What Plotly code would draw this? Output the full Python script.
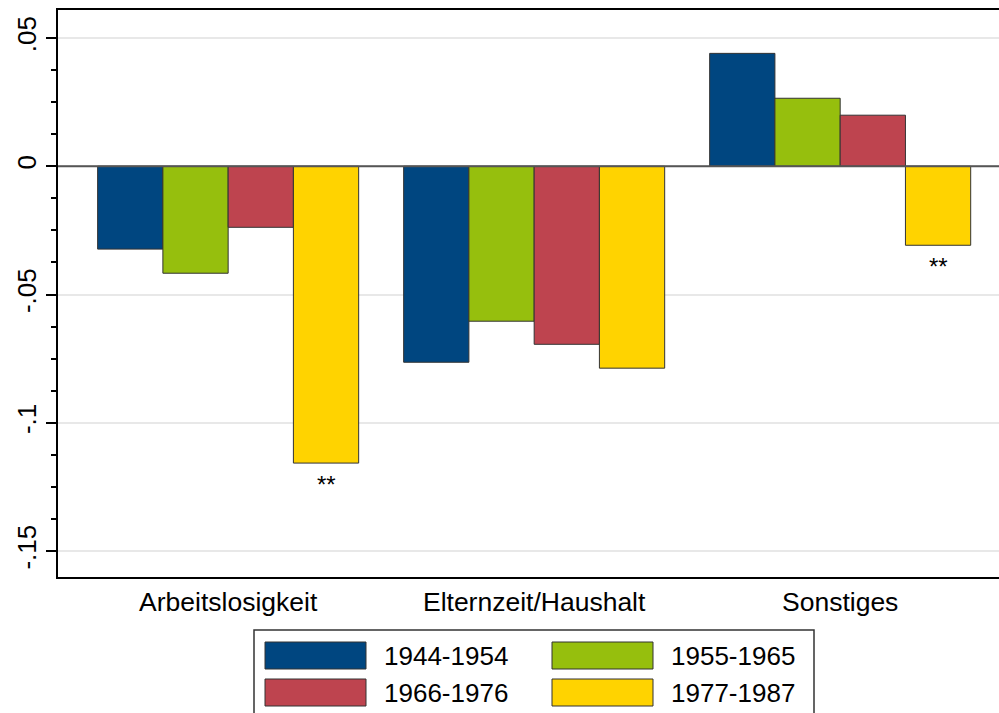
import plotly.graph_objects as go

categories = ["Arbeitslosigkeit", "Elternzeit/Haushalt", "Sonstiges"]
cohorts = ["1944-1954", "1955-1965", "1966-1976", "1977-1987"]
values = {
    "1944-1954": [-0.0323, -0.0764, 0.0440],
    "1955-1965": [-0.0417, -0.0604, 0.0265],
    "1966-1976": [-0.0238, -0.0694, 0.0199],
    "1977-1987": [-0.1157, -0.0787, -0.0308],
}
colors = ["#004680", "#96bf0d", "#be444f", "#ffd300"]
signif = {"1977-1987": ["**", "", "**"]}
ytick_vals = [-0.15, -0.1, -0.05, 0, 0.05]
ytick_text = ["-.15", "-.1", "-.05", "0", ".05"]

FONT = "Liberation Sans, Arial, sans-serif"
W, H = 999, 713
ML, MR, MT, MB = 58, 0, 10, 136
x_idx = list(range(len(categories)))
bargap = 0.147

fig = go.Figure()
for c, col in zip(cohorts, colors):
    fig.add_trace(go.Bar(x=x_idx, y=values[c], name=c, marker_color=col,
                         marker_line=dict(color="#333333", width=1)))

# significance stars
n = len(cohorts)
bw = (1 - bargap) / n
for k, c in enumerate(cohorts):
    if c in signif:
        off = (k - (n - 1) / 2) * bw
        for i, s in enumerate(signif[c]):
            if s:
                fig.add_annotation(x=i + off, y=values[c][i], text=s, showarrow=False,
                                   yanchor="top", yshift=-6, font=dict(size=24, color="black", family=FONT))

# zero line
fig.add_shape(type="line", xref="paper", yref="y", x0=0, x1=1, y0=0, y1=0,
              line=dict(color="#555555", width=2), layer="above")

# custom legend
pw = W - ML - MR
ph = H - MT - MB
def px(x):
    return (x - ML) / pw
def py(y):
    return (H - MB - y) / ph

fig.add_shape(type="rect", xref="paper", yref="paper", x0=px(254), x1=px(814), y0=py(630), y1=py(730),
              line=dict(color="#333333", width=1.5), fillcolor="white")
slots = [(265, 642), (552, 642), (265, 679), (552, 679)]
for (sx, sy), c, col in zip(slots, cohorts, colors):
    fig.add_shape(type="rect", xref="paper", yref="paper", x0=px(sx), x1=px(sx + 101),
                  y0=py(sy), y1=py(sy + 27), fillcolor=col, line=dict(color="#333333", width=1))
    fig.add_annotation(xref="paper", yref="paper", x=px(sx + 117), y=py(sy + 14), text=c,
                       showarrow=False, xanchor="left", yanchor="middle",
                       font=dict(size=26, color="black", family=FONT))

fig.update_layout(
    width=W, height=H, barmode="group", bargap=bargap, bargroupgap=0,
    margin=dict(l=ML, r=MR, t=MT, b=MB, autoexpand=False),
    paper_bgcolor="white", plot_bgcolor="white", showlegend=False,
    font=dict(family=FONT, size=26, color="black"),
)
fig.update_xaxes(range=[-0.556, 2.519], tickvals=x_idx, ticktext=categories, ticks="",
                 showgrid=False, zeroline=False, showline=True, linecolor="black", linewidth=1.5,
                 mirror=True, tickfont=dict(size=26.5), automargin=False)
fig.update_yaxes(range=[-0.1601, 0.0609], tickvals=ytick_vals, ticktext=ytick_text, tickangle=-90,
                 ticks="outside", ticklen=10, tickwidth=1.5, tickcolor="black",
                 minor=dict(dtick=0.0125, ticks="outside", ticklen=5, tickwidth=1.5, tickcolor="black", showgrid=False),
                 showgrid=True, gridcolor="#e8e8e8", gridwidth=2, zeroline=False, automargin=False,
                 showline=True, linecolor="black", linewidth=1.5, mirror=False, tickfont=dict(size=26))

fig.write_html("out.html", config={"displayModeBar": False},
               post_script="document.body.style.margin='0';document.body.style.overflow='hidden';")
